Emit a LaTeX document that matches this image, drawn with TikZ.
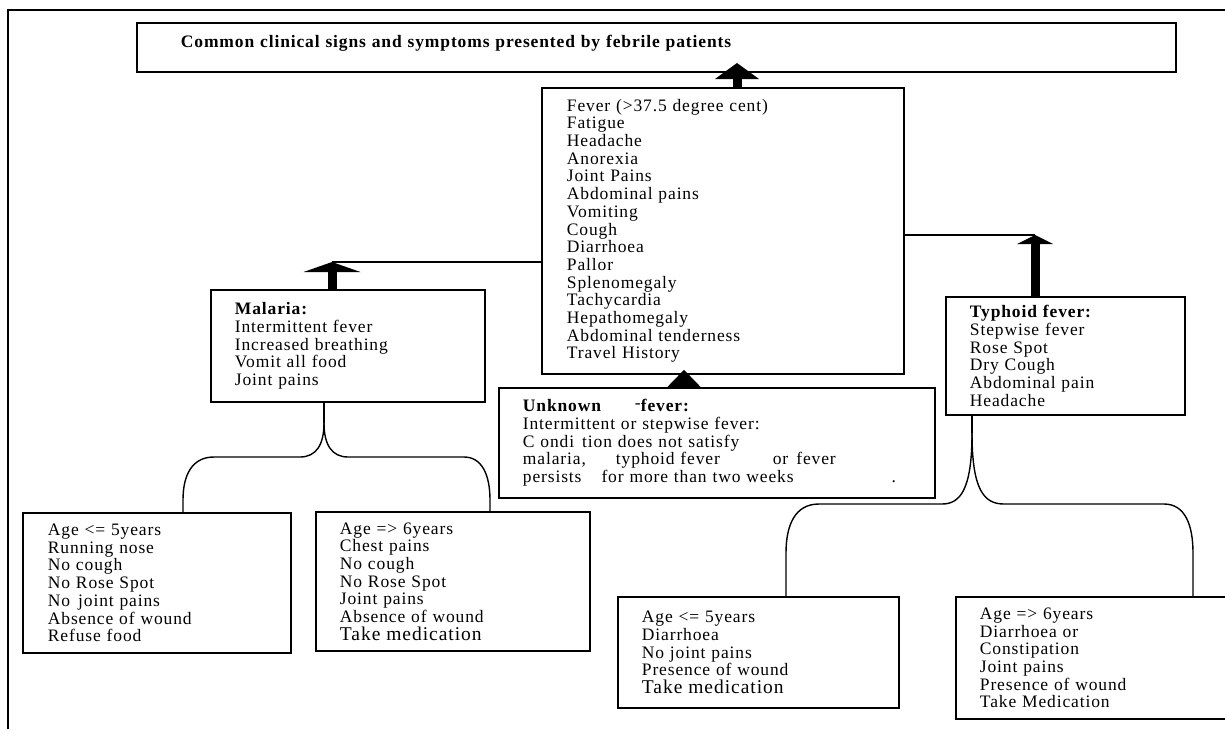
\documentclass[tikz,border=0pt]{standalone}
\usepackage{fontspec}
\setmainfont{Liberation Serif}[LetterSpace=5]
\usetikzlibrary{arrows.meta,calc}
\newcommand\bodyfs{\fontsize{17.5pt}{17.7pt}\selectfont}
\newcommand\bigfs{\fontsize{19.5pt}{20.5pt}\selectfont}
\tikzset{
  box/.style={draw, line width=1.8pt, rectangle, anchor=north west, align=left, inner ysep=0pt, font=\bodyfs},
  conn/.style={line width=1.4pt},
  fat/.style={line width=9pt},
}
\begin{document}
\begin{tikzpicture}[x=1pt,y=-1pt]
\useasboundingbox (0,0) rectangle (1225,729);
\clip (0,0) rectangle (1225,729);
\draw[line width=1.4pt] (8,729) -- (8,10) -- (1225,10);

% boxes
\node[box, font=\bfseries\bodyfs, minimum width=1039pt, minimum height=49pt, text width=951pt, inner xsep=44pt] (title) at (136,22)
  {\raisebox{-0.5pt}[0pt][0pt]{Common clinical signs and symptoms presented by febrile patients}};

\node[box, minimum width=362pt, minimum height=286pt, text width=312pt, inner xsep=25pt] (center) at (541,87)
  {Fever (>37.5 degree cent)\\Fatigue\\Headache\\Anorexia\\Joint Pains\\Abdominal pains\\Vomiting\\Cough\\Diarrhoea\\Pallor\\Splenomegaly\\Tachycardia\\Hepathomegaly\\Abdominal tenderness\\Travel History};

\node[box, minimum width=274pt, minimum height=112pt, text width=226pt, inner xsep=24pt] (malaria) at (210,289)
  {\textbf{Malaria:}\\Intermittent fever\\Increased breathing\\Vomit all food\\Joint pains};

\node[box, minimum width=436pt, minimum height=110pt, text width=388pt, inner xsep=24pt] (unknown) at (498,387)
  {\textbf{Unknown}\hspace{33pt}\raisebox{3pt}{-}\textbf{fever:}\\
   Intermittent or stepwise fever:\\
   C ondi\hspace{8pt}tion does not satisfy\\
   malaria,\hspace{30pt}typhoid fever\hspace{53pt}or\hspace{8pt}fever\\
   persists\hspace{20pt}for more than two weeks\hspace{98pt}.};

\node[box, minimum width=239pt, minimum height=118pt, text width=191pt, inner xsep=24pt] (typhoid) at (945,296)
  {\textbf{Typhoid fever:}\\Stepwise fever\\Rose Spot\\Dry Cough\\Abdominal pain\\Headache};

\node[box, minimum width=268pt, minimum height=140pt, text width=218pt, inner xsep=25pt] (mL) at (22,512)
  {Age <= 5years\\Running nose\\No cough\\No Rose Spot\\No\hspace{8pt}joint pains\\Absence of wound\\Refuse food};

\node[box, minimum width=274pt, minimum height=139pt, text width=226pt, inner xsep=24pt] (mR) at (315,511)
  {Age => 6years\\Chest pains\\No cough\\No Rose Spot\\Joint pains\\Absence of wound\\{\bigfs Take medication}};

\node[box, minimum width=281pt, minimum height=111pt, text width=233pt, inner xsep=24pt] (tL) at (617,596)
  {Age <= 5years\\Diarrhoea\\No joint pains\\Presence of wound\\{\bigfs Take medication}};

\node[box, minimum width=290pt, minimum height=122pt, text width=242pt, inner xsep=24pt] (tR) at (955,596)
  {Age => 6years\\Diarrhoea or\\Constipation\\Joint pains\\Presence of wound\\Take Medication};

% arrows
\coordinate (ctip) at (737,63);
\draw[fat, -{Triangle[length=16pt,width=44pt,line width=0pt]}] ([xshift=196pt]center.north west) -- (ctip);

\coordinate (mtip) at (332,262);
\draw[fat, -{Triangle[length=10pt,width=57pt,line width=0pt]}] ([xshift=122pt]malaria.north west) -- (mtip);
\draw[conn] (mtip) -- (mtip -| center.west);

\coordinate (ttip) at (1035,235);
\draw[fat, -{Triangle[length=9pt,width=36pt,line width=0pt]}] ([xshift=90pt]typhoid.north west) -- (ttip);
\draw[conn] (ttip -| center.east) -- (ttip);

\draw[fat, -{Triangle[length=17pt,width=33pt,line width=0pt]}] ([xshift=186pt]unknown.north west) -- ([xshift=143pt,yshift=5pt]center.south west);

% malaria bracket
\coordinate (msplit) at (324,423);
\draw[conn] ([xshift=114pt]malaria.south west) -- (msplit);
\draw[conn] (msplit) .. controls (324,445) and (316,457) .. (300,457) -- (214,457)
  .. controls (192,457) and (183,475) .. (183,500) -- ([xshift=161pt]mL.north west);
\draw[conn] (msplit) .. controls (324,445) and (332,457) .. (348,457) -- (464,457)
  .. controls (482,457) and (490,475) .. (490,500) -- ([xshift=175pt]mR.north west);

% typhoid bracket
\coordinate (tsplit) at (972,433);
\draw[conn] ([xshift=27pt]typhoid.south west) -- (tsplit);
\draw[conn] (tsplit) .. controls (972,490) and (960,504) .. (942,504) -- (819,504)
  .. controls (795,504) and (786,525) .. (786,553) -- ([xshift=169pt]tL.north west);
\draw[conn] (tsplit) .. controls (972,490) and (984,504) .. (1004,504) -- (1164,504)
  .. controls (1185,504) and (1193,525) .. (1193,553) -- ([xshift=238pt]tR.north west);
\end{tikzpicture}
\end{document}
